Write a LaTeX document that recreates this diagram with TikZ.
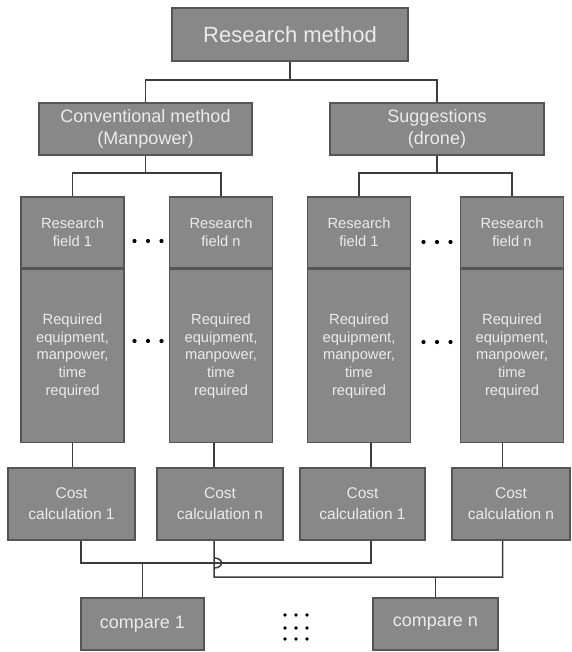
\documentclass[tikz,border=0pt]{standalone}
\usepackage{fontspec}
\setmainfont{Liberation Sans}
\usepackage{xcolor}
\usetikzlibrary{positioning,calc}

\definecolor{boxgray}{HTML}{888888}
\definecolor{boxedge}{HTML}{555555}
\definecolor{linkgray}{HTML}{3C3C3C}

\begin{document}
\begin{tikzpicture}[
  x=1pt, y=-1pt,
  box/.style={draw=boxedge, fill=boxgray, text=white!92!black, line width=1.6pt,
    inner sep=0pt, align=center},
  fieldbox/.style={box, minimum width=103pt, font=\fontsize{14.7}{17.7}\selectfont},
  costbox/.style={box, minimum height=72pt, font=\fontsize{15.5}{21}\selectfont},
  cmpbox/.style={box, minimum height=52pt, font=\fontsize{18}{22}\selectfont},
  link/.style={draw=linkgray, line width=1.5pt}
]
  \useasboundingbox (0,0) rectangle (571,652);

  % top levels
  \node[box, minimum width=236pt, minimum height=53pt, font=\fontsize{22}{26}\selectfont]
    (research) at (290,34.5) {Research method};
  \node[box, minimum width=213pt, minimum height=52pt, font=\fontsize{18}{22}\selectfont]
    (conv) at (145.5,129) {Conventional method\\(Manpower)};
  \node[box, minimum width=214pt, minimum height=52pt, font=\fontsize{18}{22}\selectfont]
    (sugg) at (437,129) {Suggestions\\(drone)};

  % research fields
  \node[fieldbox, minimum height=71pt] (fc1) at (72.5,232.5) {Research\\field 1};
  \node[fieldbox, minimum height=71pt] (fcn) at (221,232.5) {Research\\field n};
  \node[fieldbox, minimum height=71pt] (fs1) at (359,232.5) {Research\\field 1};
  \node[fieldbox, minimum height=71pt] (fsn) at (512,232.5) {Research\\field n};

  \node[fieldbox, minimum height=173pt, below=0pt of fc1] (rc1) {Required\\equipment,\\manpower,\\time\\required};
  \node[fieldbox, minimum height=173pt, below=0pt of fcn] (rcn) {Required\\equipment,\\manpower,\\time\\required};
  \node[fieldbox, minimum height=173pt, below=0pt of fs1] (rs1) {Required\\equipment,\\manpower,\\time\\required};
  \node[fieldbox, minimum height=173pt, below=0pt of fsn] (rsn) {Required\\equipment,\\manpower,\\time\\required};

  % cost calculation
  \node[costbox, minimum width=127pt] (cc1) at (71.5,504) {Cost\\calculation 1};
  \node[costbox, minimum width=126pt] (ccn) at (220,504) {Cost\\calculation n};
  \node[costbox, minimum width=125pt] (cs1) at (362.5,504) {Cost\\calculation 1};
  \node[costbox, minimum width=118pt] (csn) at (511,504) {Cost\\calculation n};

  % compare
  \node[cmpbox, minimum width=123pt] (cmp1) at (142.5,624) {compare 1};
  \node[cmpbox, minimum width=125pt] (cmpn) at (435.5,624) {compare n};

  % dots
  \foreach \dx in {-13.5,0,13.5} {
    \fill[black] (148+\dx,241) circle[radius=2.1];
    \fill[black] (148+\dx,341) circle[radius=2.1];
    \fill[black] (437+\dx,242) circle[radius=2.1];
    \fill[black] (437+\dx,342) circle[radius=2.1];
  }
  \foreach \dx in {285,296,307}
    \foreach \dy in {615,628,639}
      \fill[black] (\dx,\dy) circle[radius=1.9];

  % connectors
  \coordinate (upper) at (0,563);
  \coordinate (lower) at (0,577);
  \path[link] (research.south) -- ++(0,18) -| (conv.north);
  \path[link] (research.south) -- ++(0,18) -| (sugg.north);
  \path[link] (conv.south) -- ++(0,17) -| (fc1.north);
  \path[link] (conv.south) -- ++(0,17) -| (fcn.north);
  \path[link] (sugg.south) -- ++(0,17) -| (fs1.north);
  \path[link] (sugg.south) -- ++(0,17) -| (fsn.north);
  \path[link] (rc1.south) -- (rc1.south |- cc1.north);
  \path[link] ([xshift=-6pt]ccn.north) -- ([xshift=-6pt]ccn.north |- rcn.south);
  \path[link] ([xshift=8.5pt]cs1.north) -- ([xshift=8.5pt]cs1.north |- rs1.south);
  \path[link] ([xshift=-8.5pt]csn.north) -- ([xshift=-8.5pt]csn.north |- rsn.south);

  \path[link] ([xshift=9.5pt]cc1.south) |- ([xshift=8.5pt]cs1.south |- upper)
    -- ([xshift=8.5pt]cs1.south);
  \path[link] (cmp1.north) -- (cmp1.north |- upper);
  \path[link] ([xshift=-6pt]ccn.south) -- ([xshift=-6pt,yshift=-5pt]ccn.south |- upper)
    .. controls +(10,0) and +(10,0) .. ([xshift=-6pt,yshift=5pt]ccn.south |- upper)
    |- ([xshift=-8.5pt]csn.south |- lower) -- ([xshift=-8.5pt]csn.south);
  \path[link] (cmpn.north) -- (cmpn.north |- lower);
\end{tikzpicture}
\end{document}
